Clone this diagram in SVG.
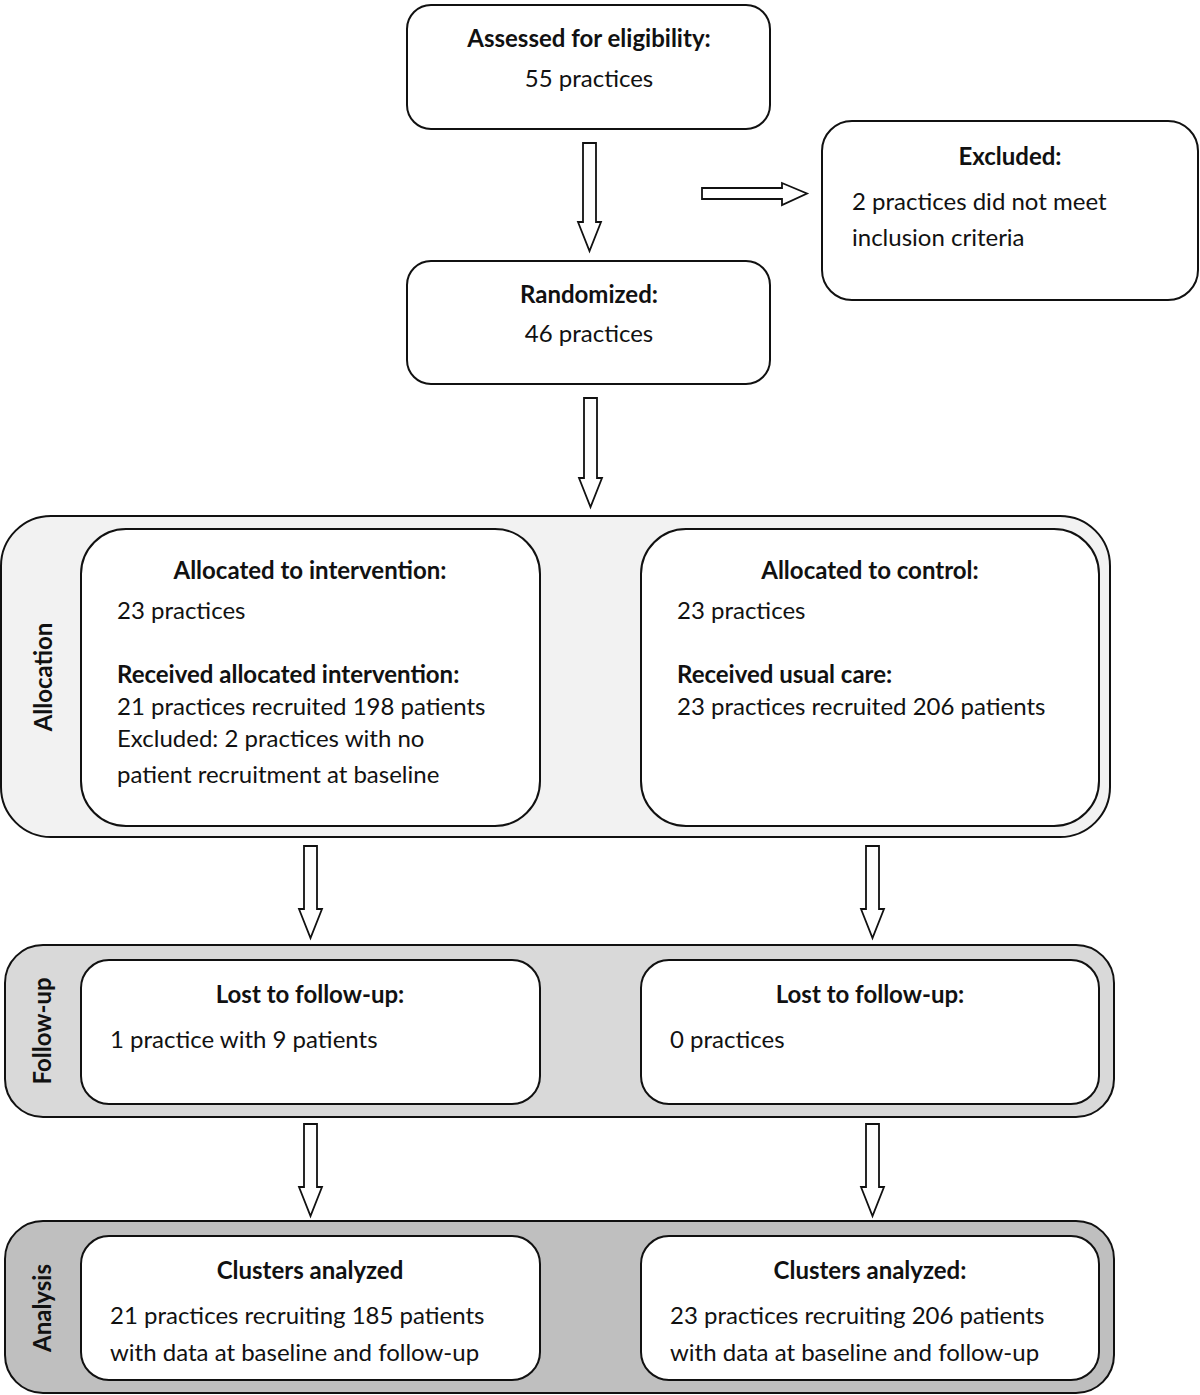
<svg xmlns="http://www.w3.org/2000/svg" width="1200" height="1395" viewBox="0 0 1200 1395">
<style>
text{font-family:Lato,"Open Sans","Liberation Sans",sans-serif;font-size:24px;fill:#111}
.b{font-weight:bold}
.c{text-anchor:middle}
.box{fill:#fff;stroke:#111;stroke-width:2}
.panel{stroke:#111;stroke-width:2}
.arr{fill:#fff;stroke:#111;stroke-width:1.8;stroke-linejoin:miter}
</style>
<rect width="1200" height="1395" fill="#fff"/>
<g id="phase-allocation">
<rect class="panel" x="1" y="516" width="1109" height="321" rx="50" fill="#f2f2f2"/>
<text class="b c" transform="translate(52,677) rotate(-90)">Allocation</text>
</g>
<g id="phase-followup">
<rect class="panel" x="5" y="945" width="1109" height="172" rx="38" fill="#d9d9d9"/>
<text class="b c" transform="translate(51,1031) rotate(-90)">Follow-up</text>
</g>
<g id="phase-analysis">
<rect class="panel" x="5" y="1221" width="1109" height="172" rx="38" fill="#bfbfbf"/>
<text class="b c" transform="translate(51,1308) rotate(-90)">Analysis</text>
</g>
<g id="connectors">
<polygon class="arr" points="583,143 596,143 596,222 601,222 589.5,251 578,222 583,222"/>
<polygon class="arr" points="702,188 782,188 782,183 807,193.5 782,205 782,199 702,199"/>
<polygon class="arr" points="584,398 597,398 597,478 602,478 590.5,507 579,478 584,478"/>
<polygon class="arr" points="304,846 317,846 317,909 322,909 310.5,938 299,909 304,909"/>
<polygon class="arr" points="866,846 879,846 879,909 884,909 872.5,938 861,909 866,909"/>
<polygon class="arr" points="304,1124 317,1124 317,1187 322,1187 310.5,1216 299,1187 304,1187"/>
<polygon class="arr" points="866,1124 879,1124 879,1187 884,1187 872.5,1216 861,1187 866,1187"/>
</g>
<g id="assessed">
<rect class="box" x="407" y="5" width="363" height="124" rx="24"/>
<text class="b c" x="589" y="47">Assessed for eligibility:</text>
<text class="c" x="589" y="87">55 practices</text>
</g>
<g id="excluded">
<rect class="box" x="822" y="121" width="376" height="179" rx="30"/>
<text class="b c" x="1010" y="165">Excluded:</text>
<text x="852" y="210">2 practices did not meet</text>
<text x="852" y="246">inclusion criteria</text>
</g>
<g id="randomized">
<rect class="box" x="407" y="261" width="363" height="123" rx="24"/>
<text class="b c" x="589" y="303">Randomized:</text>
<text class="c" x="589" y="342">46 practices</text>
</g>
<g id="alloc-intervention">
<rect class="box" x="81" y="529" width="459" height="297" rx="45"/>
<text class="b c" x="310" y="579">Allocated to intervention:</text>
<text x="117" y="619">23 practices</text>
<text class="b" x="117" y="683">Received allocated intervention:</text>
<text x="117" y="715">21 practices recruited 198 patients</text>
<text x="117" y="747">Excluded: 2 practices with no</text>
<text x="117" y="783">patient recruitment at baseline</text>
</g>
<g id="alloc-control">
<rect class="box" x="641" y="529" width="458" height="297" rx="45"/>
<text class="b c" x="870" y="579">Allocated to control:</text>
<text x="677" y="619">23 practices</text>
<text class="b" x="677" y="683">Received usual care:</text>
<text x="677" y="715">23 practices recruited 206 patients</text>
</g>
<g id="followup-intervention">
<rect class="box" x="81" y="960" width="459" height="144" rx="28"/>
<text class="b c" x="310" y="1003">Lost to follow-up:</text>
<text x="110" y="1048">1 practice with 9 patients</text>
</g>
<g id="followup-control">
<rect class="box" x="641" y="960" width="458" height="144" rx="28"/>
<text class="b c" x="870" y="1003">Lost to follow-up:</text>
<text x="670" y="1048">0 practices</text>
</g>
<g id="analysis-intervention">
<rect class="box" x="81" y="1236" width="459" height="144" rx="28"/>
<text class="b c" x="310" y="1279">Clusters analyzed</text>
<text x="110" y="1324">21 practices recruiting 185 patients</text>
<text x="110" y="1361">with data at baseline and follow-up</text>
</g>
<g id="analysis-control">
<rect class="box" x="641" y="1236" width="458" height="144" rx="28"/>
<text class="b c" x="870" y="1279">Clusters analyzed:</text>
<text x="670" y="1324">23 practices recruiting 206 patients</text>
<text x="670" y="1361">with data at baseline and follow-up</text>
</g>
</svg>
